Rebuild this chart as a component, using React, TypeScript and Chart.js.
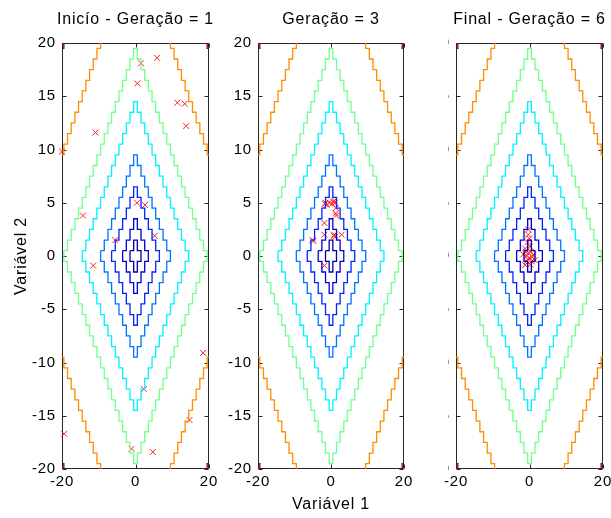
import { useEffect, useRef } from 'react';
import { Chart, registerables } from 'chart.js';

Chart.register(...registerables);

// Objective f(x, y) = |x| + |y| evaluated on the integer grid -20..20
const GRID_LIMIT = 20;
const F_MIN = 0;
const F_MAX = 40;

const X_TICKS = [-20, 0, 20];
const Y_TICKS = [-20, -15, -10, -5, 0, 5, 10, 15, 20];

// Contour levels of the objective
const CONTOUR_LEVELS = [1.5, 3.5, 6.5, 9.5, 14.5, 19.5, 29.5, 39.5];

const PANEL_TITLES = ['Inicío - Geração = 1', 'Geração = 3', 'Final - Geração = 6'];
const X_LABEL = 'Variável 1';
const Y_LABEL = 'Variável 2';

// Population, generation 1
const GEN1_X = [1.5, 5.9, 0.5, 11.4, 13.4, 13.8, -10.9, -20.0, -14.3, 0.4, 2.6, 5.2, -5.5, -11.5, 2.3, 18.4, 14.7, -19.4, -1.1, 4.7];
const GEN1_Y = [18.1, 18.6, 16.2, 14.4, 14.3, 12.2, 11.6, 9.8, 3.8, 5.0, 4.8, 1.9, 1.5, -0.9, -12.5, -9.1, -15.4, -16.7, -18.1, -18.4];

// Population, generation 3
const GEN3_X = [-1.65, -0.4, 0.6, 1.1, 1.3, 1.3, -1.8, -1.8, 0.8, 2.9, -5.1, -1.8, -1.2, 0.3, 0.9, -4.8, 0.9, 1.2, 1.4, -1.5];
const GEN3_Y = [4.9, 5.0, 5.1, 5.0, 4.5, 4.0, 3.1, 2.0, 1.9, 2.0, 1.5, -0.9, 4.8, 4.9, 5.2, 1.4, 2.0, 1.8, 3.8, 5.0];

// Population, generation 6
const GEN6_X = [-0.3, -0.3, -0.1, -0.5, 0.1, -1.2, -0.3, -1.7, -0.8, 0.1, 1.0, 0.6, -1.2, 1.5, -0.8, 0.4, -0.5, 0.3, -1.0, 0.8];
const GEN6_Y = [2.5, 2.0, 1.65, 1.3, 0.9, 0.7, 0.3, 0.15, 0.0, -0.2, 0.1, -0.5, -0.85, -0.4, -0.5, 0.4, -0.3, -0.8, 0.4, -0.1];

const POPULATIONS = [
  { xs: GEN1_X, ys: GEN1_Y },
  { xs: GEN3_X, ys: GEN3_Y },
  { xs: GEN6_X, ys: GEN6_Y },
];

const FIG_W = 611;
const FIG_H = 518;
const FONT_FAMILY = '"Liberation Sans", Arial, Helvetica, sans-serif';

// Plot-area placement of each subplot
const PANEL_LAYOUT = [
  { plotLeft: 62, plotRight: 209, side: 53 },
  { plotLeft: 258, plotRight: 404, side: 40 },
  { plotLeft: 456, plotRight: 603, side: 8 },
];

type Pt = { x: number; y: number };

function jet(t: number): string {
  const c = (v: number) => Math.round(255 * Math.max(0, Math.min(1, v)));
  const r = c(Math.min(4 * t - 1.5, -4 * t + 4.5));
  const g = c(Math.min(4 * t - 0.5, -4 * t + 3.5));
  const b = c(Math.min(4 * t + 0.5, -4 * t + 2.5));
  return `rgb(${r},${g},${b})`;
}

// Boundary of the grid cells where |i| + |j| <= level, clipped to the grid extent
function contourPieces(level: number): Pt[][] {
  const G = GRID_LIMIT;
  const halves: Pt[][][] = [];
  let closed = true;
  for (const s of [1, -1]) {
    const pieces: Pt[][] = [];
    let cur: Pt[] = [];
    let prevClipped = false;
    for (let i = -G; i <= G; i++) {
      const k = Math.floor(level - Math.abs(i));
      if (k < 0) continue;
      const xl = Math.max(i - 0.5, -G);
      const xr = Math.min(i + 0.5, G);
      if (xl <= -G || xr >= G) closed = false;
      const top = k + 0.5;
      if (top >= G) {
        closed = false;
        if (cur.length) {
          cur.push({ x: xl, y: s * G });
          pieces.push(cur);
          cur = [];
        }
        prevClipped = true;
        continue;
      }
      if (prevClipped) cur.push({ x: xl, y: s * G });
      prevClipped = false;
      cur.push({ x: xl, y: s * top }, { x: xr, y: s * top });
    }
    if (cur.length) pieces.push(cur);
    halves.push(pieces);
  }
  const [upper, lower] = halves;
  if (closed && upper.length === 1 && lower.length === 1) {
    const loop = [...upper[0], ...lower[0].slice().reverse(), upper[0][0]];
    return [loop];
  }
  return [...upper, ...lower];
}

const spacingPlugin = {
  id: 'letterSpacing',
  beforeDraw(chart: any) {
    chart.ctx.letterSpacing = '0.8px';
  },
};

// Box around the plot area with inward tick marks on all four sides
const framePlugin = {
  id: 'frame',
  beforeDatasetsDraw(chart: any) {
    const { ctx, chartArea, scales } = chart;
    const xs = scales.x;
    const ys = scales.y;
    const L = Math.round(chartArea.left) + 0.5;
    const R = Math.round(chartArea.right) - 0.5;
    const T = Math.round(chartArea.top) + 0.5;
    const B = Math.round(chartArea.bottom) - 0.5;
    const TL = 4;
    ctx.save();
    ctx.letterSpacing = '0px';
    ctx.strokeStyle = '#262626';
    ctx.lineWidth = 1;
    ctx.beginPath();
    ctx.rect(L, T, R - L, B - T);
    for (const t of xs.ticks) {
      const px = Math.round(xs.getPixelForValue(t.value)) + 0.5;
      ctx.moveTo(px, B);
      ctx.lineTo(px, B - TL);
      ctx.moveTo(px, T);
      ctx.lineTo(px, T + TL);
    }
    for (const t of ys.ticks) {
      const py = Math.round(ys.getPixelForValue(t.value)) + 0.5;
      ctx.moveTo(L, py);
      ctx.lineTo(L + TL, py);
      ctx.moveTo(R, py);
      ctx.lineTo(R - TL, py);
    }
    ctx.stroke();
    ctx.restore();
  },
};

function buildDatasets(panel: number) {
  const datasets: any[] = [];
  CONTOUR_LEVELS.forEach((level) => {
    const color = jet((level - F_MIN) / (F_MAX - F_MIN));
    for (const piece of contourPieces(level)) {
      datasets.push({
        data: piece,
        showLine: true,
        borderColor: color,
        borderWidth: 1.3,
        pointRadius: 0,
        tension: 0,
        fill: false,
        yAxisID: 'y',
        xAxisID: 'x',
      });
    }
  });
  const pop = POPULATIONS[panel];
  datasets.push({
    data: pop.xs.map((x, i) => ({ x, y: pop.ys[i] })),
    showLine: false,
    pointStyle: 'crossRot',
    pointRadius: 4.2,
    borderColor: '#ff2020',
    backgroundColor: '#ff2020',
    borderWidth: 1,
    clip: false,
    yAxisID: 'y',
    xAxisID: 'x',
  });
  return datasets;
}

function Panel({ index }: { index: number }) {
  const ref = useRef<HTMLCanvasElement | null>(null);

  useEffect(() => {
    const canvas = ref.current;
    if (!canvas) return;
    const lay = PANEL_LAYOUT[index];
    const padLeft = lay.plotLeft - lay.side;
    const padRight = FIG_W - lay.plotRight - lay.side;
    const tickFont = { family: FONT_FAMILY, size: 15, lineHeight: 1.2 };
    const labelFont = { family: FONT_FAMILY, size: 16, lineHeight: 1.2 };

    const chart = new Chart(canvas, {
      type: 'scatter',
      data: { datasets: buildDatasets(index) },
      plugins: [spacingPlugin, framePlugin],
      options: {
        responsive: false,
        animation: false,
        devicePixelRatio: 1,
        events: [],
        layout: { padding: { left: padLeft, right: padRight, top: 0, bottom: 0 } },
        plugins: {
          legend: { display: false },
          tooltip: { enabled: false },
          title: {
            display: true,
            text: PANEL_TITLES[index],
            color: '#000',
            font: { ...labelFont, weight: 'normal' },
            padding: { top: 10.4, bottom: 13.4 },
          },
        },
        scales: {
          x: {
            type: 'linear',
            min: -GRID_LIMIT,
            max: GRID_LIMIT,
            afterBuildTicks: (s: any) => {
              s.ticks = X_TICKS.map((v) => ({ value: v }));
            },
            afterFit: (s: any) => {
              s.height = 49;
              s.paddingLeft = 0;
              s.paddingRight = 0;
            },
            grid: { display: false, drawTicks: false },
            border: { display: false },
            ticks: { color: '#000', font: tickFont, padding: 4, maxRotation: 0, autoSkip: false },
            title: {
              display: index === 1,
              text: X_LABEL,
              color: '#000',
              font: labelFont,
              padding: { top: 0, bottom: 3.4 },
            },
          },
          y: {
            type: 'linear',
            position: 'left',
            min: -GRID_LIMIT,
            max: GRID_LIMIT,
            afterBuildTicks: (s: any) => {
              s.ticks = Y_TICKS.map((v) => ({ value: v }));
            },
            afterFit: (s: any) => {
              s.width = lay.side;
              s.paddingTop = 0;
              s.paddingBottom = 0;
            },
            grid: { display: false, drawTicks: false },
            border: { display: false },
            ticks: { color: '#000', font: tickFont, padding: 6, autoSkip: false },
            title: {
              display: index === 0,
              text: Y_LABEL,
              color: '#000',
              font: labelFont,
              padding: { top: 2.5, bottom: 0 },
            },
          },
          yR: {
            type: 'linear',
            position: 'right',
            display: true,
            afterFit: (s: any) => {
              s.width = lay.side;
              s.paddingTop = 0;
              s.paddingBottom = 0;
            },
            grid: { display: false, drawTicks: false },
            border: { display: false },
            ticks: { display: false },
          },
        },
      } as any,
    });
    return () => chart.destroy();
  }, [index]);

  return (
    <canvas
      ref={ref}
      width={FIG_W}
      height={FIG_H}
      style={{ position: 'absolute', left: 0, top: 0, width: FIG_W, height: FIG_H }}
    />
  );
}

export default function App() {
  return (
    <div
      style={{
        position: 'fixed',
        left: 0,
        top: 0,
        width: FIG_W,
        height: FIG_H,
        background: '#fff',
        overflow: 'hidden',
      }}
    >
      {PANEL_TITLES.map((_, i) => (
        <Panel key={i} index={i} />
      ))}
    </div>
  );
}
